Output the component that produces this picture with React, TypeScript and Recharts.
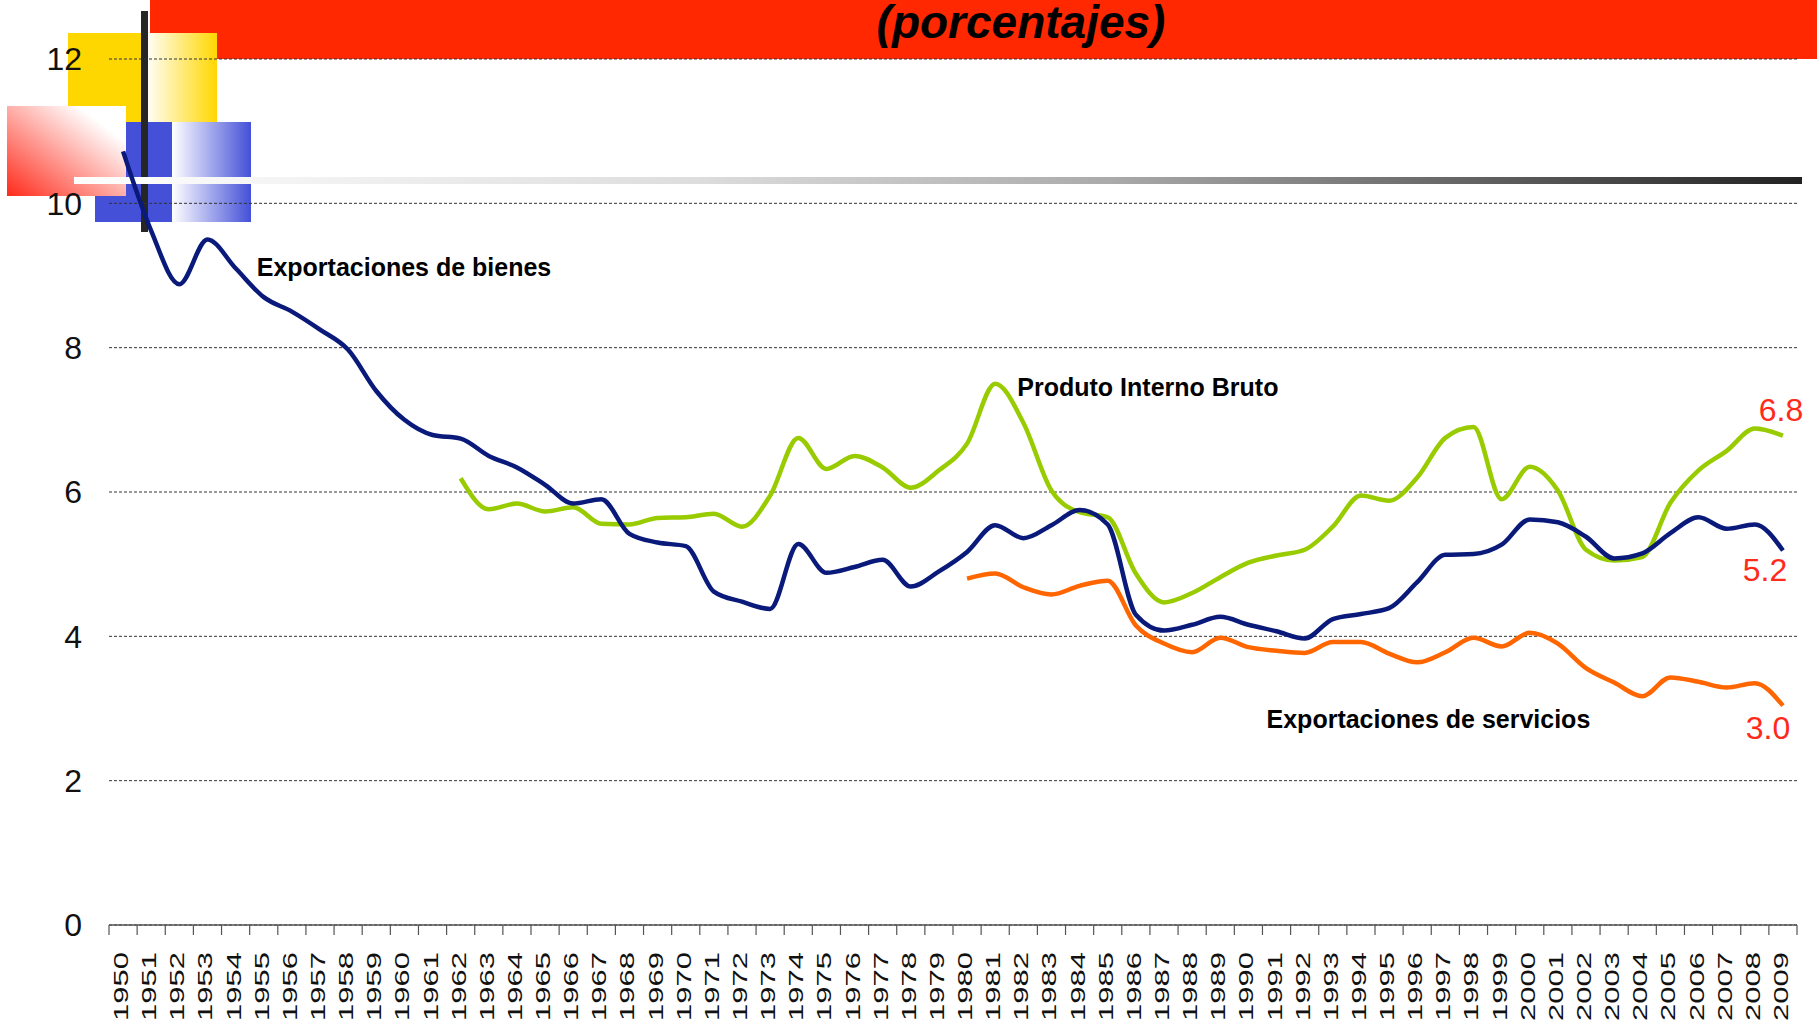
import { LineChart, Line, XAxis, YAxis, CartesianGrid, ReferenceDot, Label } from 'recharts';

const YEARS = [
  '1950', '1951', '1952', '1953', '1954', '1955', '1956', '1957', '1958', '1959',
  '1960', '1961', '1962', '1963', '1964', '1965', '1966', '1967', '1968', '1969',
  '1970', '1971', '1972', '1973', '1974', '1975', '1976', '1977', '1978', '1979',
  '1980', '1981', '1982', '1983', '1984', '1985', '1986', '1987', '1988', '1989',
  '1990', '1991', '1992', '1993', '1994', '1995', '1996', '1997', '1998', '1999',
  '2000', '2001', '2002', '2003', '2004', '2005', '2006', '2007', '2008', '2009',
];

// Exportaciones de bienes, 1950-2009
const BIENES = [
  10.72, 9.62, 8.88, 9.5, 9.1, 8.7, 8.5, 8.25, 7.97, 7.4,
  7.0, 6.79, 6.74, 6.5, 6.34, 6.1, 5.84, 5.9, 5.42, 5.3,
  5.25, 4.62, 4.48, 4.38, 5.28, 4.88, 4.96, 5.06, 4.69, 4.9,
  5.17, 5.54, 5.36, 5.54, 5.75, 5.55, 4.3, 4.08, 4.16, 4.27,
  4.16, 4.07, 3.97, 4.24, 4.31, 4.39, 4.75, 5.13, 5.14, 5.27,
  5.62, 5.58, 5.38, 5.08, 5.15, 5.43, 5.65, 5.49, 5.55, 5.19,
];

// Produto Interno Bruto, desde 1962
const PIB_DESDE = 1962;
const PIB = [
  6.19, 5.76, 5.84, 5.73, 5.79, 5.56, 5.55, 5.64,
  5.65, 5.7, 5.52, 5.95, 6.75, 6.32, 6.5, 6.34, 6.06, 6.3,
  6.67, 7.5, 6.96, 6.02, 5.72, 5.65, 4.87, 4.47, 4.6, 4.82,
  5.02, 5.12, 5.2, 5.52, 5.95, 5.88, 6.2, 6.75, 6.9, 5.9,
  6.35, 6.02, 5.2, 5.05, 5.1, 5.85, 6.3, 6.57, 6.88, 6.78,
];

// Exportaciones de servicios, desde 1980
const SERVICIOS_DESDE = 1980;
const SERVICIOS = [
  4.8, 4.87, 4.68, 4.58, 4.7, 4.77, 4.15, 3.9, 3.78, 3.98,
  3.85, 3.8, 3.77, 3.92, 3.92, 3.76, 3.64, 3.78, 3.98, 3.86,
  4.05, 3.9, 3.56, 3.36, 3.17, 3.43, 3.37, 3.29, 3.35, 3.04,
];

const Y_TICKS = [0, 2, 4, 6, 8, 10, 12];

const FONT = '"Liberation Sans", Arial, sans-serif';
const NAVY = '#0A1A7A';
const GREEN = '#99CC00';
const ORANGE = '#FF6600';
const LABEL_RED = '#FF2A1A';

const W = 1817;
const H = 1024;
const PLOT_LEFT = 109;
const PLOT_RIGHT = 20;
const BAND = (W - PLOT_LEFT - PLOT_RIGHT) / YEARS.length;

const rows = YEARS.map((year, i) => {
  const y = Number(year);
  return {
    year,
    bienes: BIENES[i],
    pib: y >= PIB_DESDE ? PIB[y - PIB_DESDE] : null,
    servicios: y >= SERVICIOS_DESDE ? SERVICIOS[y - SERVICIOS_DESDE] : null,
  };
});

// year tick: tick marks sit between the years, label rotated and a bit stretched
function YearTick(props: any) {
  const { x, y, payload, index } = props;
  const half = payload && payload.offset ? payload.offset : BAND / 2;
  const last = index === YEARS.length - 1;
  return (
    <g>
      <line x1={x - half} x2={x - half} y1={y} y2={y + 10} stroke="#555" strokeWidth={1.2} />
      {last && <line x1={x + half} x2={x + half} y1={y} y2={y + 10} stroke="#555" strokeWidth={1.2} />}
      <text
        transform={`translate(${x + 5},${y + 27}) rotate(-90) scale(1.55,1)`}
        textAnchor="end"
        fontSize={20}
        fontFamily={FONT}
        fill="#111"
      >
        {payload.value}
      </text>
    </g>
  );
}

const note = (text: string, dx: number) => (props: any) => {
  const vb = props.viewBox || {};
  const cx = vb.x + (vb.width || 0) / 2;
  const cy = vb.y + (vb.height || 0) / 2;
  return (
    <text x={cx + dx} y={cy} dominantBaseline="central" fontSize={25} fontWeight="bold" fontFamily={FONT} fill="#000">
      {text}
    </text>
  );
};

const endValue = (text: string, dx: number, dy: number) => (props: any) => {
  const vb = props.viewBox || {};
  const cx = vb.x + (vb.width || 0) / 2;
  const cy = vb.y + (vb.height || 0) / 2;
  return (
    <text x={cx + dx} y={cy + dy} textAnchor="middle" fontSize={32} fontFamily={FONT} fill={LABEL_RED}>
      {text}
    </text>
  );
};

function Decoration() {
  return (
    <svg width={W} height={H} style={{ position: 'absolute', left: 0, top: 0 }}>
      <defs>
        <linearGradient id="amarillo" x1="0" y1="0" x2="1" y2="0">
          <stop offset="0" stopColor="#fff" />
          <stop offset="1" stopColor="#FFD700" />
        </linearGradient>
        <linearGradient id="azul" x1="0" y1="0" x2="1" y2="0">
          <stop offset="0" stopColor="#fff" />
          <stop offset="1" stopColor="#4450D8" />
        </linearGradient>
        <linearGradient id="rojo" x1="0" y1="1" x2="1" y2="0">
          <stop offset="0" stopColor="#FF2A1A" />
          <stop offset="0.8" stopColor="#fff" />
        </linearGradient>
        <linearGradient id="gris" x1="0" y1="0" x2="1" y2="0">
          <stop offset="0" stopColor="#fff" />
          <stop offset="0.36" stopColor="#ddd" />
          <stop offset="0.6" stopColor="#aaa" />
          <stop offset="0.8" stopColor="#666" />
          <stop offset="1" stopColor="#222" />
        </linearGradient>
      </defs>
      <rect x={150} y={0} width={W - 150} height={59} fill="#FF2800" />
      <text x={1021} y={38} textAnchor="middle" fontSize={46} fontWeight="bold" fontStyle="italic" fontFamily={FONT} fill="#000">
        (porcentajes)
      </text>
      <rect x={68} y={33} width={77} height={89} fill="#FFD700" />
      <rect x={145} y={33} width={72} height={89} fill="url(#amarillo)" />
      <rect x={95} y={122} width={77} height={100} fill="#4450D8" />
      <rect x={172} y={122} width={79} height={100} fill="url(#azul)" />
      <rect x={7} y={106} width={119} height={90} fill="url(#rojo)" />
      <rect x={141} y={11} width={7} height={221} fill="#262626" />
      <rect x={74} y={177} width={1728} height={7} fill="url(#gris)" />
    </svg>
  );
}

export default function App() {
  return (
    <div style={{ position: 'absolute', left: 0, top: 0, width: W, height: H, background: '#fff', overflow: 'hidden' }}>
      <Decoration />
      <div style={{ position: 'absolute', left: 0, top: 0 }}>
        <LineChart width={W} height={H} data={rows} margin={{ top: 59, right: PLOT_RIGHT, bottom: 0, left: 0 }}>
          <CartesianGrid vertical={false} strokeDasharray="3 2" stroke="#333" strokeWidth={1} />
          <XAxis
            dataKey="year"
            scale="band"
            interval={0}
            height={99}
            tickSize={0}
            tickMargin={0}
            tickLine={false}
            axisLine={{ stroke: '#555', strokeWidth: 1.5 }}
            tick={<YearTick />}
          />
          <YAxis
            width={PLOT_LEFT}
            domain={[0, 12]}
            ticks={Y_TICKS}
            axisLine={false}
            tickLine={false}
            tickSize={0}
            tickMargin={27}
            tick={{ fontSize: 32, fill: '#111', fontFamily: FONT }}
          />
          <Line type="monotone" dataKey="pib" stroke={GREEN} strokeWidth={4.5} dot={false} activeDot={false} isAnimationActive={false} />
          <Line type="monotone" dataKey="servicios" stroke={ORANGE} strokeWidth={4.5} dot={false} activeDot={false} isAnimationActive={false} />
          <Line type="monotone" dataKey="bienes" stroke={NAVY} strokeWidth={4.5} dot={false} activeDot={false} isAnimationActive={false} />

          <ReferenceDot x="1955" y={9.12} r={0} fill="none" stroke="none" label={<Label content={note('Exportaciones de bienes', -7)} />} />
          <ReferenceDot x="1982" y={7.46} r={0} fill="none" stroke="none" label={<Label content={note('Produto Interno Bruto', -6)} />} />
          <ReferenceDot x="1991" y={2.86} r={0} fill="none" stroke="none" label={<Label content={note('Exportaciones de servicios', -10)} />} />

          <ReferenceDot x="2009" y={PIB[PIB.length - 1]} r={0} fill="none" stroke="none" label={<Label content={endValue(PIB[PIB.length - 1].toFixed(1), -2, -15)} />} />
          <ReferenceDot x="2009" y={BIENES[BIENES.length - 1]} r={0} fill="none" stroke="none" label={<Label content={endValue(BIENES[BIENES.length - 1].toFixed(1), -18, 31)} />} />
          <ReferenceDot x="2009" y={SERVICIOS[SERVICIOS.length - 1]} r={0} fill="none" stroke="none" label={<Label content={endValue(SERVICIOS[SERVICIOS.length - 1].toFixed(1), -15, 33)} />} />
        </LineChart>
      </div>
    </div>
  );
}
